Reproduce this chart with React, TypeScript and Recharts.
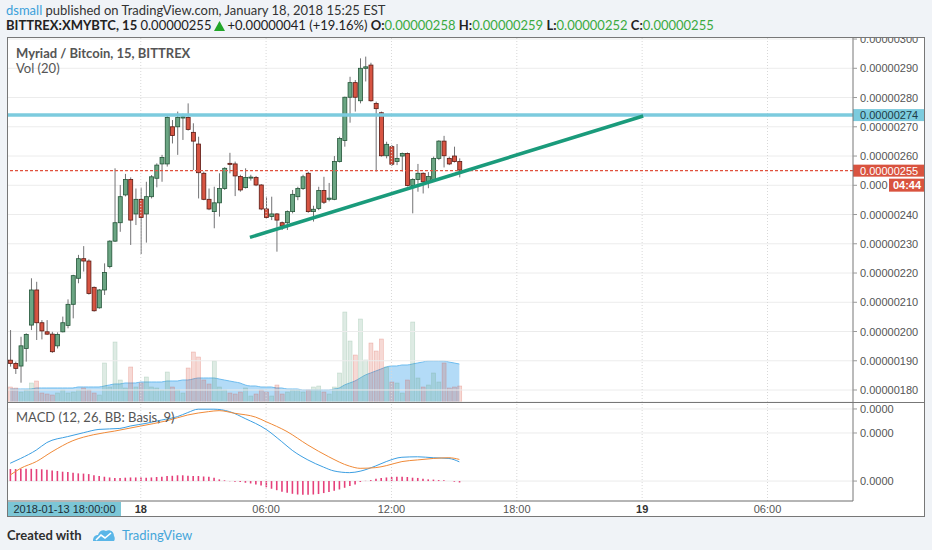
import React from 'react';
import {
  ComposedChart,
  Bar,
  Line,
  Area,
  XAxis,
  YAxis,
  CartesianGrid,
  ReferenceLine,
} from 'recharts';

// 15-minute candles, prices in satoshi (1e-8 BTC); index 25 = Jan 18 00:00
const opens = [
  190.2, 189.1, 188.2, 194.2, 202.2, 214.2, 203.0, 199.9, 199.1, 195.1,
  199.9, 202.1, 209.3, 218.2, 224.9, 224.1, 215.1, 208.1, 214.2, 222.2,
  230.9, 237.2, 246.7, 252.0, 240.2, 245.2, 240.2, 246.1, 252.4, 257.3,
  257.3, 270.0, 270.0, 273.0, 273.2, 268.1, 264.1, 254.1, 245.2, 241.0,
  244.0, 248.9, 257.5, 257.3, 253.0, 249.2, 252.7, 252.7, 250.1, 241.9,
  239.3, 240.2, 237.2, 237.2, 241.0, 246.1, 248.9, 254.1, 241.0, 242.1,
  248.2, 245.2, 245.2, 258.1, 265.3, 280.1, 285.1, 278.9, 290.0, 291.1,
  278.0, 274.8, 260.1, 263.2, 258.1, 260.0, 260.9, 249.9, 252.0, 254.1,
  251.2, 252.0, 259.2, 265.1, 259.2, 260.0, 258.1,
];
const highs = [
  200.5, 189.7, 198.2, 199.4, 218.2, 217.0, 203.9, 203.9, 199.9, 199.7,
  205.1, 211.0, 219.4, 226.2, 229.2, 224.7, 215.4, 214.5, 223.3, 231.2,
  255.8, 250.1, 253.9, 252.7, 248.9, 249.2, 251.2, 253.5, 257.5, 260.4,
  274.0, 272.3, 275.2, 274.5, 278.0, 271.2, 266.6, 254.7, 248.9, 249.5,
  254.1, 256.2, 261.1, 258.1, 253.6, 255.8, 253.6, 253.2, 250.4, 246.1,
  246.1, 240.5, 237.6, 241.4, 248.4, 249.5, 253.6, 254.6, 243.0, 249.5,
  252.9, 250.8, 260.0, 266.6, 280.3, 287.1, 286.0, 293.4, 294.0, 291.9,
  278.6, 275.2, 264.9, 263.8, 264.1, 261.2, 261.2, 252.4, 257.3, 254.4,
  254.5, 259.8, 265.4, 266.9, 259.8, 263.2, 259.2,
];
const lows = [
  188.0, 185.5, 182.5, 189.7, 200.5, 197.1, 197.3, 198.8, 192.7, 194.2,
  199.7, 201.1, 204.5, 216.5, 220.5, 212.6, 206.8, 207.8, 212.5, 221.6,
  230.6, 234.1, 246.2, 229.6, 236.4, 226.5, 230.4, 245.5, 249.3, 251.2,
  256.4, 264.3, 260.4, 265.5, 268.7, 255.2, 245.5, 244.9, 241.5, 235.3,
  239.3, 248.4, 254.1, 246.3, 247.8, 248.9, 251.6, 249.7, 241.5, 238.6,
  238.1, 227.3, 234.7, 234.7, 240.4, 244.9, 248.4, 240.6, 237.6, 241.5,
  243.6, 244.5, 244.9, 257.8, 263.2, 271.4, 275.2, 278.0, 285.5, 278.6,
  254.7, 259.8, 259.2, 256.6, 256.9, 254.7, 249.6, 240.4, 247.8, 247.2,
  249.0, 251.8, 258.6, 256.1, 256.9, 257.8, 252.7,
];
const closes = [
  189.1, 187.4, 195.1, 199.0, 214.2, 203.0, 200.2, 199.1, 193.1, 199.0,
  203.0, 209.3, 219.1, 224.9, 224.1, 213.0, 207.1, 214.2, 220.2, 230.9,
  237.2, 246.1, 252.0, 238.1, 245.2, 239.0, 246.1, 252.9, 256.9, 259.5,
  273.2, 267.0, 273.2, 273.4, 269.1, 265.1, 254.3, 245.2, 241.9, 244.0,
  248.9, 255.8, 257.3, 253.2, 248.4, 252.7, 252.8, 250.1, 241.9, 239.0,
  240.2, 238.1, 236.1, 241.0, 246.9, 248.9, 252.9, 241.0, 241.8, 248.2,
  244.2, 245.6, 258.1, 266.0, 280.1, 285.1, 280.1, 290.0, 290.5, 278.9,
  276.2, 260.1, 264.0, 257.2, 259.2, 260.9, 249.9, 252.0, 254.1, 251.2,
  253.0, 259.2, 265.1, 260.1, 257.3, 258.1, 255.2,
];
const volumes = [
  15, 14, 10, 12, 19, 21, 9, 8, 7, 9,
  12, 9, 10, 12, 14, 12, 9, 7, 39, 15,
  60, 22, 14, 35, 15, 19, 25, 15, 14, 12,
  30, 15, 12, 9, 34, 50, 45, 22, 18, 41,
  15, 12, 9, 8, 10, 14, 6, 8, 12, 10,
  6, 17, 8, 10, 12, 12, 10, 12, 15, 16,
  10, 8, 15, 29, 90, 61, 47, 83, 42, 59,
  51, 63, 35, 20, 19, 9, 22, 80, 24, 15,
  17, 29, 20, 39, 14, 15, 16,
];
const volumeMA = [
  13, 13, 13, 13, 13, 14, 14, 14, 14, 14,
  14, 14, 14, 15, 15, 15, 15, 15, 16, 17,
  18, 18, 19, 19, 19, 20, 20, 20, 20, 20,
  21, 21, 21, 22, 22, 23, 24, 24, 24, 24,
  23, 22, 21, 20, 19, 17, 16, 16, 15, 15,
  15, 14, 14, 13, 13, 13, 12, 12, 12, 12,
  12, 12, 13, 14, 17, 19, 21, 24, 27, 29,
  31, 33, 35, 36, 36, 37, 37, 38, 39, 40,
  41, 41, 41, 41, 40, 39, 38,
];
const macdHist = [
  0.5, 0.5, 0.51, 0.51, 0.51, 0.5, 0.49, 0.47, 0.44, 0.42,
  0.39, 0.38, 0.35, 0.32, 0.31, 0.29, 0.24, 0.21, 0.18, 0.15,
  0.13, 0.13, 0.14, 0.15, 0.15, 0.15, 0.14, 0.15, 0.17, 0.18,
  0.21, 0.22, 0.24, 0.24, 0.22, 0.21, 0.21, 0.19, 0.18, 0.14,
  0.07, 0.03, -0.01, -0.03, -0.04, -0.07, -0.1, -0.14, -0.18, -0.26,
  -0.32, -0.38, -0.44, -0.49, -0.53, -0.56, -0.57, -0.57, -0.56, -0.54,
  -0.5, -0.46, -0.4, -0.35, -0.28, -0.21, -0.14, -0.04, 0.01, 0.04,
  0.1, 0.13, 0.15, 0.17, 0.18, 0.18, 0.17, 0.14, 0.13, 0.1,
  0.07, 0.06, 0.04, 0.03, 0, -0.03, -0.06,
];

// MACD and signal lines, read at sample candles
const macdLine = [
  { i: 0, v: 0.74 }, { i: 2, v: 0.94 }, { i: 5, v: 1.29 }, { i: 7, v: 1.6 },
  { i: 11, v: 1.85 }, { i: 14, v: 2.01 }, { i: 17, v: 2.15 }, { i: 21, v: 2.19 },
  { i: 23, v: 2.29 }, { i: 26, v: 2.4 }, { i: 29, v: 2.54 }, { i: 32, v: 2.68 },
  { i: 34, v: 2.85 }, { i: 36, v: 2.99 }, { i: 39, v: 2.99 }, { i: 42, v: 2.89 },
  { i: 45, v: 2.6 }, { i: 49, v: 2.15 }, { i: 52, v: 1.64 }, { i: 54, v: 1.28 },
  { i: 57, v: 0.88 }, { i: 60, v: 0.58 }, { i: 62, v: 0.42 }, { i: 65, v: 0.35 },
  { i: 67, v: 0.41 }, { i: 70, v: 0.63 }, { i: 72, v: 0.81 }, { i: 75, v: 0.99 },
  { i: 78, v: 1.01 }, { i: 81, v: 0.97 }, { i: 84, v: 0.94 }, { i: 86, v: 0.8 },
];
const signalLine = [
  { i: 0, s: 0.25 }, { i: 2, s: 0.53 }, { i: 5, s: 0.81 }, { i: 8, s: 1.22 },
  { i: 12, s: 1.68 }, { i: 16, s: 1.93 }, { i: 20, s: 2.08 }, { i: 25, s: 2.29 },
  { i: 30, s: 2.51 }, { i: 34, s: 2.75 }, { i: 38, s: 2.89 }, { i: 40, s: 2.93 },
  { i: 43, s: 2.82 }, { i: 47, s: 2.66 }, { i: 49, s: 2.47 }, { i: 53, s: 2.06 },
  { i: 57, s: 1.5 }, { i: 61, s: 1.01 }, { i: 65, s: 0.62 }, { i: 67, s: 0.53 },
  { i: 70, s: 0.56 }, { i: 72, s: 0.64 }, { i: 75, s: 0.81 }, { i: 78, s: 0.88 },
  { i: 81, s: 0.94 }, { i: 84, s: 0.97 }, { i: 86, s: 0.9 },
];

const priceTicks = [180, 190, 200, 210, 220, 230, 240, 250, 260, 270, 280, 290, 300];
const macdTicks = [0, 2, 3];
const timeTicks = [25, 49, 73, 97, 121, 145];
const timeLabels = ['18', '06:00', '12:00', '18:00', '19', '06:00'];

const resistance = 274;
const lastPrice = 255;
const trendLine = [
  { x: 45.9, y: 232.2 },
  { x: 121.2, y: 273.7 },
];

const X_DOMAIN: [number, number] = [-0.61, 161.37];
const PRICE_DOMAIN: [number, number] = [175.9, 300.7];

const AXIS_FONT = '"Liberation Sans", Arial, sans-serif';
const UI_FONT = 'Lato, "Open Sans", sans-serif';
const GREEN_TXT = '#3aaa3f';

const rows = opens.map((o, i) => ({
  i,
  o,
  h: highs[i],
  l: lows[i],
  c: closes[i],
  vol: volumes[i],
  ma: volumeMA[i],
  hist: macdHist[i],
}));

const fmtPrice = (v: number) => '0.00000' + v;

const Candle = (props: any) => {
  const { x, y, width, height, payload } = props;
  const { o, h, l, c } = payload;
  const top = Math.min(y, y + height);
  const full = Math.abs(height);
  const span = h - l || 1;
  const yO = top + ((h - o) / span) * full;
  const yC = top + ((h - c) / span) * full;
  const up = c >= o;
  const cx = x + width / 2;
  return (
    <g>
      <line x1={cx} x2={cx} y1={top} y2={top + full} stroke="#737375" strokeWidth={1} />
      <rect
        x={cx - 2}
        y={Math.min(yO, yC)}
        width={4}
        height={Math.max(Math.abs(yC - yO), 1)}
        fill={up ? '#6ba583' : '#d75442'}
        stroke={up ? '#225437' : '#5b1a13'}
        strokeWidth={0.8}
      />
    </g>
  );
};

const VolumeBar = (props: any) => {
  const { x, y, width, height, payload } = props;
  const up = payload.c >= payload.o;
  const col = up ? '#6ba583' : '#d75442';
  return (
    <rect
      x={x + width / 2 - 2}
      y={y}
      width={4}
      height={height}
      fill={col}
      fillOpacity={0.22}
      stroke={col}
      strokeOpacity={0.35}
      strokeWidth={0.6}
    />
  );
};

const PriceTick = (props: any) => {
  const { x, y, payload } = props;
  const v = payload.value;
  return (
    <text x={x} y={y} dy={4} fill="#555" fontSize={11} fontFamily={AXIS_FONT} textAnchor="start">
      {v === 250 ? '0.000' : fmtPrice(v)}
    </text>
  );
};

const TimeTick = (props: any) => {
  const { x, y, payload } = props;
  const idx = timeTicks.indexOf(payload.value);
  const label = timeLabels[idx] ?? '';
  const bold = label.indexOf(':') < 0;
  return (
    <text
      x={x}
      y={y}
      dy={4}
      fill={bold ? '#333' : '#555'}
      fontWeight={bold ? 700 : 400}
      fontSize={11}
      fontFamily={AXIS_FONT}
      textAnchor="middle"
    >
      {label}
    </text>
  );
};

const AxisBox = (props: any) => {
  const { viewBox, text, bg, color, countdown } = props;
  if (!viewBox) return null;
  const bx = viewBox.x + viewBox.width;
  const y = viewBox.y;
  return (
    <g>
      <rect x={bx} y={y - 6} width={72} height={12} fill={bg} />
      <text x={bx + 7} y={y + 4} fill={color} fontSize={11} fontFamily={AXIS_FONT}>
        {text}
      </text>
      {countdown && (
        <g>
          <rect x={bx + 36} y={y + 8} width={36} height={13} fill={bg} />
          <text
            x={bx + 54}
            y={y + 18.5}
            fill="#fff"
            fontSize={11}
            fontWeight={700}
            fontFamily={AXIS_FONT}
            textAnchor="middle"
          >
            {countdown}
          </text>
        </g>
      )}
    </g>
  );
};

const abs = (left: number, top: number, extra: React.CSSProperties = {}): React.CSSProperties => ({
  position: 'absolute',
  left,
  top,
  ...extra,
});

const Triangle = () => (
  <svg width={11} height={10} style={{ verticalAlign: '-1px', margin: '0 2px 0 3px' }}>
    <path d="M5.5 0 L11 10 L0 10 Z" fill="#22a62a" />
  </svg>
);

export default function App() {
  return (
    <div
      style={{
        position: 'fixed',
        left: 0,
        top: 0,
        width: 932,
        height: 550,
        background: '#f0f3f7',
        fontFamily: UI_FONT,
        overflow: 'hidden',
      }}
    >
      {/* header */}
      <div style={abs(6, 2, { fontSize: 13, lineHeight: '16px', color: '#333', whiteSpace: 'nowrap' })}>
        <span style={{ color: '#3aa0da' }}>dsmall</span> published on TradingView.com, January 18, 2018 15:25 EST
      </div>
      <div style={abs(6, 17, { fontSize: 13, lineHeight: '17px', color: '#222', whiteSpace: 'nowrap' })}>
        <b>BITTREX:XMYBTC, 15</b> 0.00000255
        <Triangle />
        +0.00000041 (+19.16%) <b>O:</b>
        <span style={{ color: GREEN_TXT }}>0.00000258</span> <b>H:</b>
        <span style={{ color: GREEN_TXT }}>0.00000259</span> <b>L:</b>
        <span style={{ color: GREEN_TXT }}>0.00000252</span> <b>C:</b>
        <span style={{ color: GREEN_TXT }}>0.00000255</span>
      </div>

      {/* chart frame */}
      <div style={abs(7, 37, { width: 918, height: 480, background: '#fff' })} />

      {/* volume layer */}
      <div style={abs(7, 37)}>
        <ComposedChart width={918} height={365} data={rows} margin={{ top: 0, right: 72, bottom: 0, left: 0 }}>
          <XAxis dataKey="i" type="number" domain={X_DOMAIN} allowDataOverflow hide />
          <YAxis yAxisId="vol" domain={[0, 365]} allowDataOverflow hide />
          <Bar yAxisId="vol" dataKey="vol" barSize={4} shape={VolumeBar} isAnimationActive={false} />
          <Area
            yAxisId="vol"
            dataKey="ma"
            type="monotone"
            stroke="#6dbcef"
            strokeWidth={1}
            fill="#56b0ee"
            fillOpacity={0.45}
            isAnimationActive={false}
          />
        </ComposedChart>
      </div>

      {/* price layer */}
      <div style={abs(7, 37)}>
        <ComposedChart width={918} height={365} data={rows} margin={{ top: 0, right: 0, bottom: 0, left: 0 }}>
          <CartesianGrid vertical={false} stroke="#ececec" />
          <XAxis dataKey="i" type="number" domain={X_DOMAIN} allowDataOverflow hide />
          <YAxis
            orientation="right"
            width={72}
            domain={PRICE_DOMAIN}
            ticks={priceTicks}
            allowDataOverflow
            interval={0}
            axisLine={{ stroke: '#777' }}
            tickLine={{ stroke: '#999' }}
            tickSize={4}
            tickMargin={3}
            tick={PriceTick}
          />
          {timeTicks.map((t) => (
            <ReferenceLine key={t} x={t} stroke="#d8d8d8" strokeDasharray="1 2" />
          ))}
          <Bar dataKey={(d: any) => [d.l, d.h]} barSize={4} shape={Candle} isAnimationActive={false} />
          <ReferenceLine
            y={resistance}
            stroke="#7ccbde"
            strokeWidth={3.5}
            label={<AxisBox text={fmtPrice(resistance)} bg="#7ccbde" color="#1d3b46" />}
          />
          <ReferenceLine
            y={lastPrice}
            stroke="#e0513d"
            strokeWidth={1.3}
            strokeDasharray="3 2"
            label={<AxisBox text={fmtPrice(lastPrice)} bg="#d9533f" color="#fff" countdown="04:44" />}
          />
          <ReferenceLine segment={trendLine} stroke="#1a9b7b" strokeWidth={3.5} ifOverflow="visible" />
        </ComposedChart>
      </div>

      {/* MACD layer */}
      <div style={abs(7, 402)}>
        <ComposedChart width={918} height={115} data={rows} margin={{ top: 0, right: 0, bottom: 0, left: 0 }}>
          <CartesianGrid vertical={false} stroke="#ececec" />
          <XAxis
            dataKey="i"
            type="number"
            domain={X_DOMAIN}
            allowDataOverflow
            ticks={timeTicks}
            interval={0}
            height={16}
            axisLine={{ stroke: '#777' }}
            tickLine={false}
            tick={TimeTick}
          />
          <YAxis
            orientation="right"
            width={72}
            domain={[-0.83, 3.29]}
            ticks={macdTicks}
            allowDataOverflow
            interval={0}
            axisLine={{ stroke: '#777' }}
            tickLine={{ stroke: '#999' }}
            tickSize={4}
            tickMargin={3}
            tickFormatter={() => '0.0000'}
            tick={{ fill: '#555', fontSize: 11, fontFamily: AXIS_FONT }}
          />
          {timeTicks.map((t) => (
            <ReferenceLine key={t} x={t} stroke="#d8d8d8" strokeDasharray="1 2" />
          ))}
          <Bar dataKey="hist" barSize={1.6} fill="#e5407a" isAnimationActive={false} />
          <Line
            data={macdLine}
            dataKey="v"
            type="monotone"
            stroke="#3d9fe2"
            strokeWidth={1}
            dot={false}
            isAnimationActive={false}
          />
          <Line
            data={signalLine}
            dataKey="s"
            type="monotone"
            stroke="#f08a38"
            strokeWidth={1}
            dot={false}
            isAnimationActive={false}
          />
        </ComposedChart>
      </div>

      {/* frame borders and separators */}
      <div style={abs(7, 37, { width: 918, height: 480, border: '1px solid #777', boxSizing: 'border-box', pointerEvents: 'none' })} />
      <div style={abs(7, 402, { width: 918, height: 1, background: '#777' })} />

      {/* pane titles */}
      <div style={abs(16, 45, { fontSize: 13, lineHeight: '16px', color: '#555', fontWeight: 700 })}>
        Myriad / Bitcoin, 15, BITTREX
      </div>
      <div style={abs(16, 60, { fontSize: 13, lineHeight: '16px', color: '#555' })}>Vol (20)</div>
      <div style={abs(16, 409, { fontSize: 13, lineHeight: '16px', color: '#555' })}>MACD (12, 26, BB: Basis, 9)</div>

      {/* crosshair time label */}
      <div
        style={abs(8, 502, {
          width: 113,
          height: 14,
          background: '#7cc6d6',
          color: '#1c2f36',
          fontFamily: AXIS_FONT,
          fontSize: 11,
          lineHeight: '14px',
          textAlign: 'center',
        })}
      >
        2018-01-13 18:00:00
      </div>

      {/* footer */}
      <div style={abs(7, 527, { fontSize: 13, lineHeight: '16px', color: '#2e2e2e', fontWeight: 700 })}>Created with</div>
      <svg style={abs(92, 528)} width={24} height={14}>
        <path d="M1 13 C1 9 3 7 6 7 C7 3 11 1 14 3 C17 1 22 3 22 8 C23 9 23 12 22 13 Z" fill="#5ab6e8" />
        <path d="M4 12 L9 7 L13 10 L19 5" stroke="#fff" strokeWidth={1.6} fill="none" />
      </svg>
      <div style={abs(122, 527, { fontSize: 13, lineHeight: '16px', color: '#45a6da' })}>TradingView</div>
    </div>
  );
}
